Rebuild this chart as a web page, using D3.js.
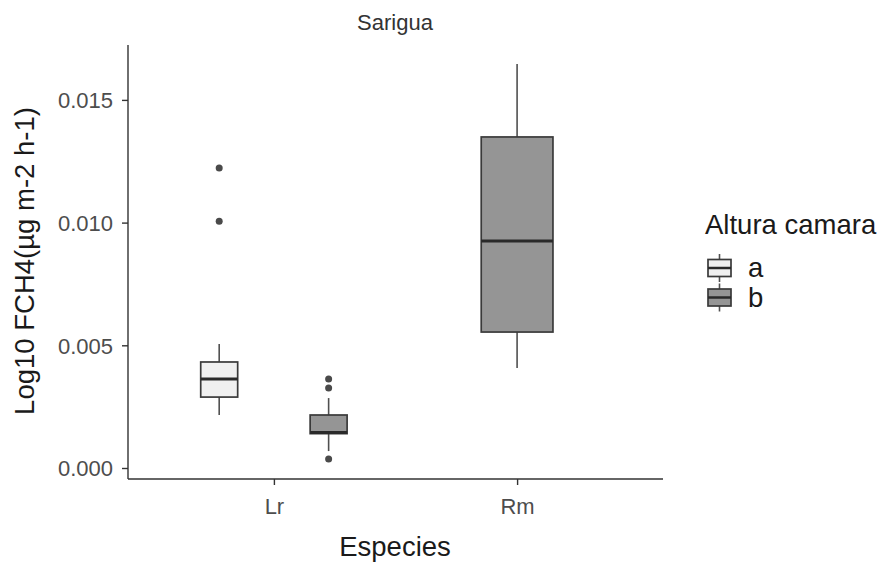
<!DOCTYPE html>
<html><head><meta charset="utf-8">
<script src="https://cdn.jsdelivr.net/npm/d3@7"></script>
<style>body{margin:0;background:#fff}svg{display:block}text{font-family:"Liberation Sans",Arial,sans-serif}</style>
</head><body><svg id="c" width="882" height="562"></svg>
<script>
const categories = ["Lr", "Rm"];
const groups = ["a", "b"];
const yTicks = [0, 0.005, 0.010, 0.015];
// box stats: [category, group, whiskerLow, q1, median, q3, whiskerHigh]
const boxStats = [
  ["Lr", "a", 0.00216, 0.00289, 0.00363, 0.00432, 0.00505],
  ["Lr", "b", 0.00069, 0.00140, 0.00145, 0.00216, 0.00285],
  ["Rm", "b", 0.00407, 0.00554, 0.00925, 0.01349, 0.01646]
];
const outliers = [
  ["Lr", "a", 0.01222], ["Lr", "a", 0.01006],
  ["Lr", "b", 0.00363], ["Lr", "b", 0.00326], ["Lr", "b", 0.00037]
];
const fills = {a: "#f0f0f0", b: "#959595"};

(function () {
const svg = d3.select("#c");
const pLeft = 128, pRight = 663, pTop = 45, pBottom = 479;
const x = d3.scalePoint().domain(categories).range([pLeft, pRight]).padding(0.6);
const y = d3.scaleLinear().domain([0, 0.0177]).range([468, 468 - 0.0177 * 24540]);
const step = x.step();

const grpCount = c => boxStats.filter(d => d[0] === c).length;
function pos(c, g) {
  const n = grpCount(c);
  if (n === 1) return {cx: x(c), w: step * 0.295};
  const idx = boxStats.filter(d => d[0] === c).findIndex(d => d[1] === g);
  const off = (idx - (n - 1) / 2) * step * 0.45;
  return {cx: x(c) + off, w: step * 0.152};
}

const lineCol = "#3a3a3a";
const g = svg.append("g");
boxStats.forEach(d => {
  const [c, gr, lo, q1, med, q3, hi] = d;
  const p = pos(c, gr);
  g.append("line").attr("x1", p.cx).attr("x2", p.cx).attr("y1", y(hi)).attr("y2", y(q3)).attr("stroke", "#505050").attr("stroke-width", 1.6);
  g.append("line").attr("x1", p.cx).attr("x2", p.cx).attr("y1", y(q1)).attr("y2", y(lo)).attr("stroke", "#505050").attr("stroke-width", 1.6);
  g.append("rect").attr("x", p.cx - p.w / 2).attr("width", p.w).attr("y", y(q3)).attr("height", y(q1) - y(q3))
    .attr("fill", fills[gr]).attr("stroke", lineCol).attr("stroke-width", 1.7);
  g.append("line").attr("x1", p.cx - p.w / 2).attr("x2", p.cx + p.w / 2).attr("y1", y(med)).attr("y2", y(med)).attr("stroke", "#2a2a2a").attr("stroke-width", 3);
});
outliers.forEach(d => {
  const p = pos(d[0], d[1]);
  g.append("circle").attr("cx", p.cx).attr("cy", y(d[2])).attr("r", 3.5).attr("fill", "#4a4a4a");
});

const yAxis = svg.append("g").attr("transform", `translate(${pLeft},0)`)
  .call(d3.axisLeft(y).tickValues(yTicks).tickFormat(d3.format(".3f")).tickSizeOuter(0).tickSize(6).tickPadding(9));
yAxis.select(".domain").attr("d", `M0,${pTop}V${pBottom}`).attr("stroke", "#333").attr("stroke-width", 1.4);
yAxis.selectAll(".tick line").attr("stroke", "#333").attr("stroke-width", 1.4);
yAxis.selectAll(".tick text").attr("fill", "#4d4d4d").style("font-size", "22px").attr("dy", "0.36em");

const xAxis = svg.append("g").attr("transform", `translate(0,${pBottom})`)
  .call(d3.axisBottom(x).tickSizeOuter(0).tickSize(6).tickPadding(13));
xAxis.select(".domain").attr("d", `M${pLeft},0H${pRight}`).attr("stroke", "#333").attr("stroke-width", 1.4);
xAxis.selectAll(".tick line").attr("stroke", "#333").attr("stroke-width", 1.4);
xAxis.selectAll(".tick text").attr("fill", "#4d4d4d").style("font-size", "22px");

svg.append("text").attr("x", 395).attr("y", 30).attr("text-anchor", "middle").style("font-size", "22px").attr("fill", "#333").text("Sarigua");
svg.append("text").attr("x", 395).attr("y", 556).attr("text-anchor", "middle").style("font-size", "27.5px").attr("fill", "#1a1a1a").text("Especies");
svg.append("text").attr("transform", "translate(34,261) rotate(-90)").attr("text-anchor", "middle").style("font-size", "27.5px").attr("fill", "#1a1a1a").text("Log10 FCH4(µg m-2 h-1)");

const lg = svg.append("g");
lg.append("text").attr("x", 705).attr("y", 234).style("font-size", "27.5px").attr("fill", "#1a1a1a").text("Altura camara");
groups.forEach((gr, i) => {
  const cy = 268 + i * 29.5, cx = 719.5;
  lg.append("line").attr("x1", cx).attr("x2", cx).attr("y1", cy - 14).attr("y2", cy + 14).attr("stroke", "#505050").attr("stroke-width", 1.6);
  lg.append("rect").attr("x", cx - 11.5).attr("y", cy - 8.5).attr("width", 23).attr("height", 17).attr("fill", fills[gr]).attr("stroke", lineCol).attr("stroke-width", 1.7);
  lg.append("line").attr("x1", cx - 11.5).attr("x2", cx + 11.5).attr("y1", cy).attr("y2", cy).attr("stroke", "#2a2a2a").attr("stroke-width", 2.5);
  lg.append("text").attr("x", 748).attr("y", cy + 9).style("font-size", "27.5px").attr("fill", "#1a1a1a").text(gr);
});
})();
</script></body></html>
